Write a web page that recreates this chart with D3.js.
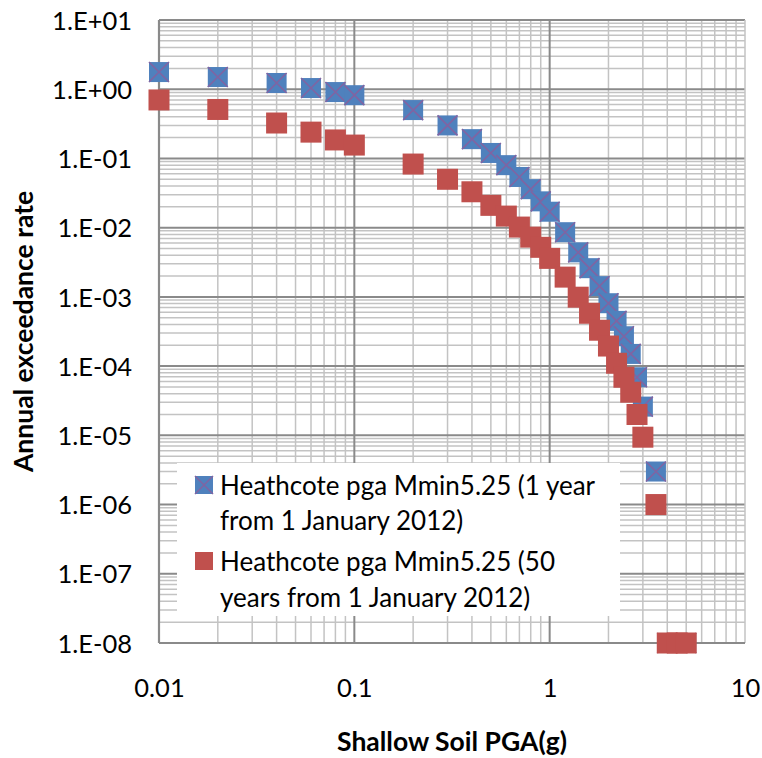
<!DOCTYPE html>
<html>
<head>
<meta charset="utf-8">
<script src="https://cdn.jsdelivr.net/npm/d3@7"></script>
<style>
  html, body { margin: 0; padding: 0; background: #ffffff; }
  svg { display: block; }
  text { font-family: Lato, "Open Sans", "Liberation Sans", sans-serif; fill: #000; }
</style>
</head>
<body>
<svg id="chart" width="762" height="758"></svg>
<script>
// ---- data ----
const pga = [0.01, 0.02, 0.04, 0.06, 0.08, 0.1, 0.2, 0.3, 0.4, 0.5, 0.6, 0.7, 0.8, 0.9, 1.0,
             1.2, 1.4, 1.6, 1.8, 2.0, 2.2, 2.4, 2.6, 2.8, 3.0, 3.5, 4.0, 4.5, 5.0];
const rate1yr = [1.77, 1.50, 1.23, 1.04, 0.91, 0.82, 0.50, 0.30, 0.19, 0.12, 0.080, 0.054, 0.036, 0.024, 0.017,
                 0.0086, 0.0044, 0.0026, 0.00143, 8.1e-4, 4.5e-4, 2.7e-4, 1.5e-4, 6.9e-5, 2.6e-5, 3.0e-6, 1e-8, 1e-8, 1e-8];
const rate50yr = [0.70, 0.51, 0.325, 0.24, 0.185, 0.156, 0.083, 0.050, 0.033, 0.021, 0.0147, 0.0102, 0.0073, 0.0052, 0.0036,
                  0.00193, 0.00099, 5.8e-4, 3.3e-4, 1.95e-4, 1.1e-4, 6.9e-5, 4.2e-5, 2.0e-5, 9.4e-6, 1.0e-6, 1e-8, 1e-8, 1e-8];
const seriesNames = ["Heathcote pga Mmin5.25 (1 year from 1 January 2012)",
                     "Heathcote pga Mmin5.25 (50 years from 1 January 2012)"];
const legendLines = [["Heathcote pga Mmin5.25 (1 year", "from 1 January 2012)"],
                     ["Heathcote pga Mmin5.25 (50", "years from 1 January 2012)"]];
const yTickValues = [1e1, 1e0, 1e-1, 1e-2, 1e-3, 1e-4, 1e-5, 1e-6, 1e-7, 1e-8];
const yTickLabels = ["1.E+01", "1.E+00", "1.E-01", "1.E-02", "1.E-03", "1.E-04", "1.E-05", "1.E-06", "1.E-07", "1.E-08"];
const xTickValues = [0.01, 0.1, 1, 10];
const xTickLabels = ["0.01", "0.1", "1", "10"];
const xTitle = "Shallow Soil PGA(g)";
const yTitle = "Annual exceedance rate";

// ---- layout ----
const L = 159, R = 745, T = 20, B = 643;
const FS = 25.5, FSB = 26.5;
const svg = d3.select("#chart");
const x = d3.scaleLog().domain([0.01, 10]).range([L, R]);
const y = d3.scaleLog().domain([1e1, 1e-8]).range([T, B]);

const minorColor = "#c3c3c3", majorColor = "#8a8a8a";

// minor grid values
const xMinor = [], yMinor = [];
for (let e = -2; e < 1; e++) for (let m = 2; m <= 9; m++) xMinor.push(m * Math.pow(10, e));
for (let e = -8; e < 1; e++) for (let m = 2; m <= 9; m++) yMinor.push(m * Math.pow(10, e));

const grid = svg.append("g");
grid.selectAll(".hmin").data(yMinor).join("line")
  .attr("x1", L).attr("x2", R).attr("y1", d => y(d)).attr("y2", d => y(d))
  .attr("stroke", minorColor).attr("stroke-width", 1.5);
grid.selectAll(".vmin").data(xMinor).join("line")
  .attr("y1", T).attr("y2", B).attr("x1", d => x(d)).attr("x2", d => x(d))
  .attr("stroke", minorColor).attr("stroke-width", 1.5);
grid.selectAll(".hmaj").data(yTickValues).join("line")
  .attr("x1", L).attr("x2", R).attr("y1", d => y(d)).attr("y2", d => y(d))
  .attr("stroke", majorColor).attr("stroke-width", 2);
grid.selectAll(".vmaj").data(xTickValues.slice(1, 3)).join("line")
  .attr("y1", T).attr("y2", B).attr("x1", d => x(d)).attr("x2", d => x(d))
  .attr("stroke", majorColor).attr("stroke-width", 2);
// right edge
grid.append("line").attr("x1", x(10)).attr("x2", x(10)).attr("y1", T).attr("y2", B)
  .attr("stroke", minorColor).attr("stroke-width", 1.5);
// axis lines
grid.append("line").attr("x1", L).attr("x2", L).attr("y1", T).attr("y2", B)
  .attr("stroke", majorColor).attr("stroke-width", 2.2);
grid.append("line").attr("x1", L).attr("x2", R).attr("y1", B).attr("y2", B)
  .attr("stroke", majorColor).attr("stroke-width", 2.2);

// ---- axes (labels only) ----
const yAxis = d3.axisLeft(y).tickValues(yTickValues)
  .tickFormat((d, i) => yTickLabels[i]).tickSize(0).tickPadding(27);
const gy = svg.append("g").attr("transform", `translate(${L},0)`).call(yAxis);
gy.select(".domain").remove();
gy.selectAll("text").style("font-size", FS + "px").style("font-family", "Lato, sans-serif").attr("dy", "0.36em");

const xAxis = d3.axisBottom(x).tickValues(xTickValues)
  .tickFormat((d, i) => xTickLabels[i]).tickSize(0).tickPadding(36);
const gx = svg.append("g").attr("transform", `translate(0,${B})`).call(xAxis);
gx.select(".domain").remove();
gx.selectAll("text").style("font-size", FS + "px").style("font-family", "Lato, sans-serif");

// ---- markers ----
const S = 20;
const blue = "#4f81bd", red = "#c0504d", cross = "#8064a2";
const g1 = svg.append("g");
const pts1 = pga.map((p, i) => ({ p, v: rate1yr[i] }));
const pts2 = pga.map((p, i) => ({ p, v: rate50yr[i] }));
const bm = g1.selectAll("g.b").data(pts1).join("g")
  .attr("transform", d => `translate(${x(d.p)},${y(d.v)})`);
bm.append("rect").attr("x", -S / 2).attr("y", -S / 2).attr("width", S).attr("height", S).attr("fill", blue);
bm.append("path").attr("d", `M${-S/2},${-S/2}L${S/2},${S/2}M${S/2},${-S/2}L${-S/2},${S/2}`)
  .attr("stroke", cross).attr("stroke-width", 1.6);
const g2 = svg.append("g");
g2.selectAll("rect").data(pts2).join("rect")
  .attr("x", d => x(d.p) - 10.5).attr("y", d => y(d.v) - 10.5)
  .attr("width", 21).attr("height", 21).attr("fill", red);

// ---- legend ----
const lg = svg.append("g");
lg.append("rect").attr("x", 177).attr("y", 463).attr("width", 443).attr("height", 153).attr("fill", "#fff");
const lgBase = [[495, 530], [571, 607]];
const s1 = lg.append("g").attr("transform", "translate(204,485)");
s1.append("rect").attr("x", -9).attr("y", -9).attr("width", 18).attr("height", 18).attr("fill", blue);
s1.append("path").attr("d", "M-9,-9L9,9M9,-9L-9,9").attr("stroke", cross).attr("stroke-width", 1.5);
lg.append("rect").attr("x", 195).attr("y", 552).attr("width", 18).attr("height", 18).attr("fill", red);
legendLines.forEach((lines, i) => {
  lines.forEach((t, j) => {
    lg.append("text").attr("x", 220).attr("y", lgBase[i][j]).style("font-size", "26px").text(t);
  });
});

// ---- titles ----
svg.append("text").attr("x", (L + R) / 2).attr("y", 751).attr("text-anchor", "middle")
  .style("font-size", FSB + "px").style("font-weight", "bold").text(xTitle);
svg.append("text").attr("transform", `translate(33,${(T + B) / 2}) rotate(-90)`).attr("text-anchor", "middle")
  .style("font-size", FSB + "px").style("font-weight", "bold").text(yTitle);
</script>
</body>
</html>
